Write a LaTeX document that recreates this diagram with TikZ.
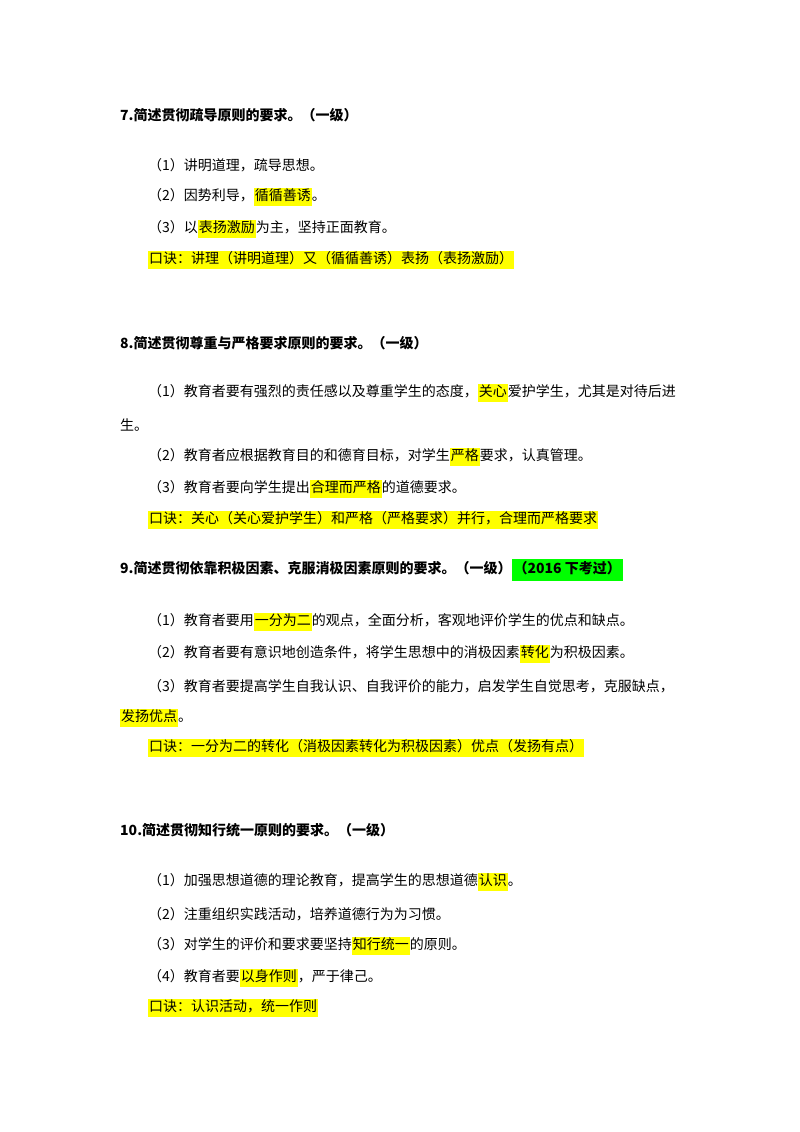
\documentclass[tikz,border=0pt]{standalone}
\usepackage{fontspec}
\setmainfont{Noto Sans CJK SC}
\definecolor{hy}{RGB}{255,255,0}
\definecolor{hg}{RGB}{0,255,0}
\newcommand\hly[1]{{\setlength{\fboxsep}{1pt}\colorbox{hy}{\strut #1}}}
\newcommand\hlg[1]{{\setlength{\fboxsep}{2pt}\colorbox{hg}{\strut #1}}}
\begin{document}
\begin{tikzpicture}[x=1pt,y=-1pt,
  t/.style={anchor=west,inner sep=0pt,font=\fontsize{14}{16.5}\selectfont},
  h/.style={t,font=\fontsize{14}{16.5}\selectfont\bfseries}]
\useasboundingbox[fill=white] (0,0) rectangle (800,1132);
\node[h] (a0) at (120,115) {7.简述贯彻疏导原则的要求。（一级）};
\node[t] (a1) at (148,165) {（1）讲明道理，疏导思想。};
\node[t] (a2) at (148,197) {（2）因势利导，\hly{循循善诱}。};
\node[t] (a3) at (148,229) {（3）以\hly{表扬激励}为主，坚持正面教育。};
\node[t] (a4) at (148,260) {\hly{口诀：讲理（讲明道理）又（循循善诱）表扬（表扬激励）}};
\node[h] (b0) at (120,343) {8.简述贯彻尊重与严格要求原则的要求。（一级）};
\node[t] (b1) at (148,393) {（1）教育者要有强烈的责任感以及尊重学生的态度，\hly{关心}爱护学生，尤其是对待后进};
\node[t] (b1b) at (120,425) {生。};
\node[t] (b2) at (148,457) {（2）教育者应根据教育目的和德育目标，对学生\hly{严格}要求，认真管理。};
\node[t] (b3) at (148,489) {（3）教育者要向学生提出\hly{合理而严格}的道德要求。};
\node[t] (b4) at (148,520) {\hly{口诀：关心（关心爱护学生）和严格（严格要求）并行，合理而严格要求}};
\node[h] (c0) at (120,570) {9.简述贯彻依靠积极因素、克服消极因素原则的要求。（一级）\hlg{（2016 下考过）}};
\node[t] (c1) at (148,622) {（1）教育者要用\hly{一分为二}的观点，全面分析，客观地评价学生的优点和缺点。};
\node[t] (c2) at (148,654) {（2）教育者要有意识地创造条件，将学生思想中的消极因素\hly{转化}为积极因素。};
\node[t] (c3) at (148,686) {（3）教育者要提高学生自我认识、自我评价的能力，启发学生自觉思考，克服缺点，};
\node[t] (c3b) at (120,718) {\hly{发扬优点}。};
\node[t] (c4) at (148,748) {\hly{口诀：一分为二的转化（消极因素转化为积极因素）优点（发扬有点）}};
\node[h] (d0) at (120,830) {10.简述贯彻知行统一原则的要求。（一级）};
\node[t] (d1) at (148,882) {（1）加强思想道德的理论教育，提高学生的思想道德\hly{认识}。};
\node[t] (d2) at (148,914) {（2）注重组织实践活动，培养道德行为为习惯。};
\node[t] (d3) at (148,946) {（3）对学生的评价和要求要坚持\hly{知行统一}的原则。};
\node[t] (d4) at (148,978) {（4）教育者要\hly{以身作则}，严于律己。};
\node[t] (d5) at (148,1008) {\hly{口诀：认识活动，统一作则}};
\end{tikzpicture}
\end{document}
